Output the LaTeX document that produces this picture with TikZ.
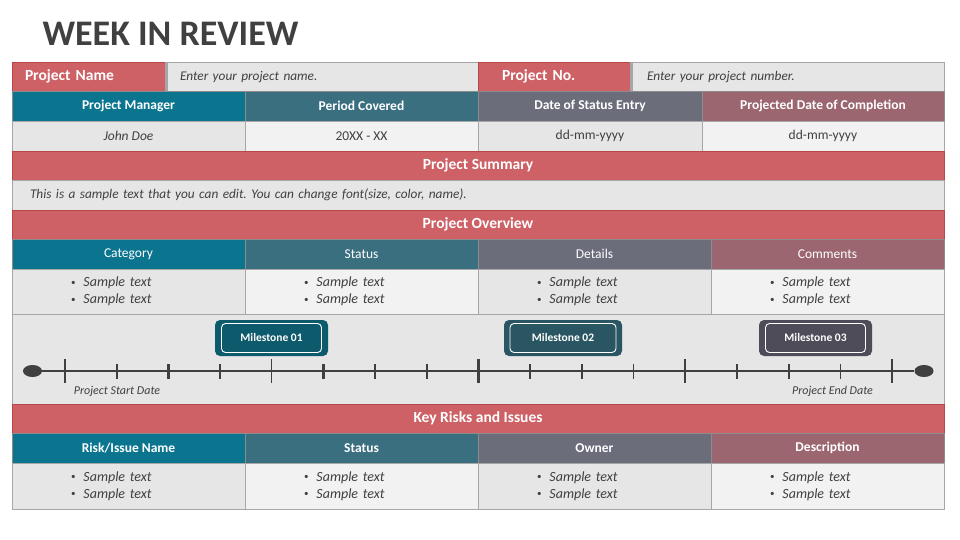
\documentclass[tikz,border=0pt]{standalone}
\usepackage{fontspec}
\setmainfont{Carlito}
\frenchspacing
\usetikzlibrary{shapes.geometric,positioning}

\definecolor{rowred}{HTML}{CD6166}
\definecolor{rowredline}{HTML}{B8474C}
\definecolor{hdteal}{HTML}{0B7590}
\definecolor{hdslate}{HTML}{3A6F80}
\definecolor{hdgrey}{HTML}{6B6D7B}
\definecolor{hdmauve}{HTML}{9C6670}
\definecolor{celldark}{HTML}{E6E6E6}
\definecolor{celllight}{HTML}{F2F2F2}
\definecolor{cellline}{HTML}{A6A6A6}
\definecolor{titlegrey}{HTML}{404040}
\definecolor{msone}{HTML}{0C5A6C}
\definecolor{mstwo}{HTML}{2A5663}
\definecolor{msthree}{HTML}{4D4C58}

\tikzstyle{cell}=[draw=cellline, line width=0.7pt, inner sep=0pt, outer sep=0pt,
  anchor=north west, minimum height=29.5pt, text=titlegrey,
  font=\fontsize{13.5}{16}\selectfont]
\tikzstyle{namebox}=[cell, fill=rowred, draw=rowredline, text=white, align=left,
  font=\bfseries\fontsize{15.5}{18}\selectfont]
\tikzstyle{fieldbox}=[cell, fill=celldark, align=left,
  font=\itshape\fontsize{13.3}{15}\selectfont]
\tikzstyle{header}=[cell, minimum width=233pt, draw=black!45, text=white,
  font=\bfseries\fontsize{13.5}{16}\selectfont]
\tikzstyle{valuecell}=[cell, minimum width=233pt]
\tikzstyle{band}=[cell, minimum width=932pt, fill=rowred, draw=rowredline, text=white,
  font=\bfseries\fontsize{15.5}{18}\selectfont]
\tikzstyle{bullets}=[valuecell, minimum height=45pt, align=left, text width=115pt,
  font=\itshape\fontsize{14}{17}\selectfont]
\tikzstyle{shade}=[fill=black!35]
\tikzstyle{enddot}=[ellipse, fill=titlegrey, minimum width=19pt, minimum height=12pt,
  inner sep=0pt]
\tikzstyle{tline}=[draw=titlegrey, line width=2.8pt]
\tikzstyle{bigtick}=[draw=titlegrey, line width=2.2pt]
\tikzstyle{thintick}=[draw=titlegrey, line width=1.2pt]
\tikzstyle{msbox}=[rounded corners=5pt, minimum width=113pt, minimum height=36pt,
  inner sep=0pt]
\tikzstyle{mstext}=[draw=white, line width=0.9pt, rounded corners=4pt,
  minimum width=100pt, minimum height=29pt, inner sep=0pt, text=white,
  font=\bfseries\fontsize{11.5}{14}\selectfont]
\tikzstyle{datetext}=[anchor=base, text=titlegrey,
  font=\itshape\fontsize{12}{14}\selectfont]

\newcommand{\sample}{{\upshape\raisebox{1.6pt}{\fontsize{9}{9}\selectfont\textbullet}}%
  \hspace{8pt}Sample text}

\begin{document}
\begin{tikzpicture}[x=1pt,y=-1pt]
  \useasboundingbox (0,0) rectangle (960,540);

  % Title
  \path (39,46) node (title) [anchor=base west, text=titlegrey,
    font=\bfseries\fontsize{36}{40}\selectfont] {WEEK IN REVIEW};

  % Project name and number
  \path (12,62) node (pname) [namebox, minimum width=153pt, text width=127pt] {Project Name};
  \path (pname.north east) node (pnamefld) [fieldbox, minimum width=313pt, text width=283pt]
    {Enter your project name.};
  \path (pnamefld.north east) node (pno) [namebox, minimum width=152pt, text width=104pt]
    {Project No.};
  \path (pno.north east) node (pnofld) [fieldbox, minimum width=314pt, text width=280pt]
    {Enter your project number.};
  \path [shade] (pname.north east) rectangle +(2.5,29.5);
  \path [shade] (pno.north east) rectangle +(2.5,29.5);

  % Status header and values
  \path (pname.south west) node (pm) [header, fill=hdteal] {Project Manager};
  \path (pm.north east) node (pc) [header, fill=hdslate] {Period Covered};
  \path (pc.north east) node (dse) [header, fill=hdgrey, minimum width=224pt]
    {Date of Status Entry};
  \path (dse.north east) node (pdc) [header, fill=hdmauve, minimum width=242pt]
    {Projected Date of Completion};

  \path (pm.south west) node (pmv) [valuecell, fill=celldark, minimum height=30pt]
    {\textit{John Doe}};
  \path (pmv.north east) node (pcv) [valuecell, fill=celllight, minimum height=30pt]
    {20XX - XX};
  \path (pcv.north east) node (dsev) [valuecell, fill=celldark, minimum width=224pt,
    minimum height=30pt] {dd-mm-yyyy};
  \path (dsev.north east) node (pdcv) [valuecell, fill=celllight, minimum width=242pt,
    minimum height=30pt] {dd-mm-yyyy};

  % Summary
  \path (pmv.south west) node (sum) [band] {Project Summary};
  \path (sum.south west) node (sumtxt) [fieldbox, minimum width=932pt, text width=896pt]
    {This is a sample text that you can edit. You can change font(size, color, name).};

  % Overview
  \path (sumtxt.south west) node (ovw) [band] {Project Overview};
  \path (ovw.south west) node (cat) [header, fill=hdteal, font=\fontsize{13.5}{16}\selectfont]
    {Category};
  \path (cat.north east) node (sta) [header, fill=hdslate, font=\fontsize{13.5}{16}\selectfont]
    {Status};
  \path (sta.north east) node (det) [header, fill=hdgrey, font=\fontsize{13.5}{16}\selectfont]
    {Details};
  \path (det.north east) node (com) [header, fill=hdmauve, font=\fontsize{13.5}{16}\selectfont]
    {Comments};
  \path (cat.south west) node (catv) [bullets, fill=celldark] {\sample\\\sample};
  \path (catv.north east) node (stav) [bullets, fill=celllight] {\sample\\\sample};
  \path (stav.north east) node (detv) [bullets, fill=celldark] {\sample\\\sample};
  \path (detv.north east) node (comv) [bullets, fill=celllight] {\sample\\\sample};

  % Timeline
  \path (catv.south west) node (tl) [cell, fill=celldark, minimum width=932pt,
    minimum height=90pt] {};
  \path (32.5,371) node (tstart) [enddot] {};
  \path (924,371) node (tend) [enddot] {};
  \path [tline] (tstart) -- (tend);
  \path [bigtick] (65,359) -- +(0,24) (478.5,359) -- +(0,24)
    (685.3,359) -- +(0,24) (892.2,359) -- +(0,24);
  \path [thintick] (271.8,359) -- +(0,24);
  \path [bigtick] (116.7,364) -- +(0,15) (168.4,364) -- +(0,15) (220.1,364) -- +(0,15)
    (323.5,364) -- +(0,15) (375.2,364) -- +(0,15) (426.9,364) -- +(0,15)
    (530.2,364) -- +(0,15) (581.9,364) -- +(0,15) (737,364) -- +(0,15)
    (788.7,364) -- +(0,15);
  \path [thintick] (633.6,364) -- +(0,15) (840.5,364) -- +(0,15);

  \path (271.5,338) node (m1) [msbox, fill=msone] {};
  \path (m1) node (m1t) [mstext] {Milestone 01};
  \path (563,338) node (m2) [msbox, fill=mstwo, minimum width=118pt] {};
  \path (m2) node (m2t) [mstext, minimum width=106pt] {Milestone 02};
  \path (815.5,338) node (m3) [msbox, fill=msthree] {};
  \path (m3) node (m3t) [mstext] {Milestone 03};

  \path (117,394) node (sdate) [datetext] {Project Start Date};
  \path (832.5,394) node (edate) [datetext] {Project End Date};

  % Key risks
  \path (tl.south west) node (risk) [band] {Key Risks and Issues};
  \path (risk.south west) node (rin) [header, fill=hdteal] {Risk/Issue Name};
  \path (rin.north east) node (rst) [header, fill=hdslate] {Status};
  \path (rst.north east) node (row) [header, fill=hdgrey] {Owner};
  \path (row.north east) node (rde) [header, fill=hdmauve] {Description};
  \path (rin.south west) node (rinv) [bullets, fill=celldark, minimum height=46pt]
    {\sample\\\sample};
  \path (rinv.north east) node (rstv) [bullets, fill=celllight, minimum height=46pt]
    {\sample\\\sample};
  \path (rstv.north east) node (rowv) [bullets, fill=celldark, minimum height=46pt]
    {\sample\\\sample};
  \path (rowv.north east) node (rdev) [bullets, fill=celllight, minimum height=46pt]
    {\sample\\\sample};
\end{tikzpicture}
\end{document}
